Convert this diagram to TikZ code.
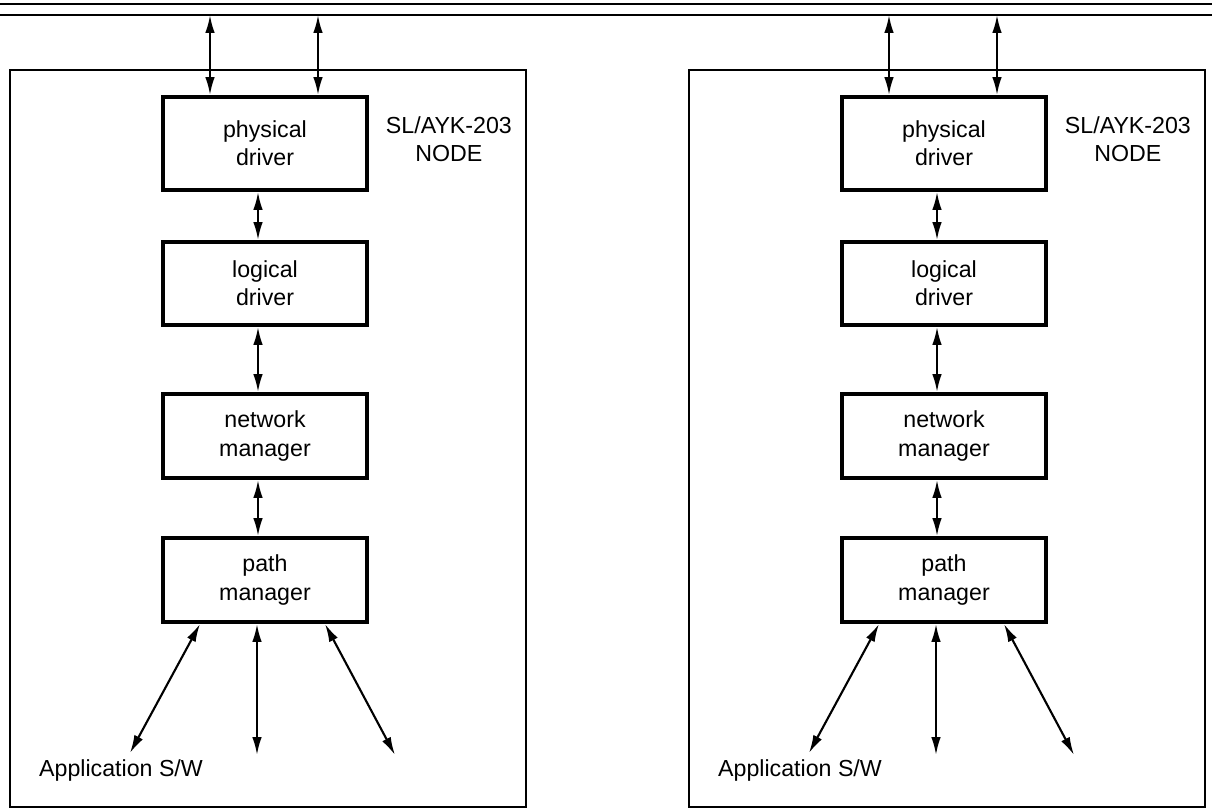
\documentclass[tikz,border=0pt]{standalone}
\usepackage{fontspec}
\setmainfont{Liberation Sans}
\usetikzlibrary{arrows.meta}
\tikzset{
  layer/.style={draw,line width=2.8pt,minimum width=5.1cm,minimum height=2.1cm,align=center},
  link/.style={line width=1.5pt,>={Latex[length=4.5mm,width=2.4mm]},<->},
  wire/.style={line width=1.4pt},
}
\begin{document}
\begin{tikzpicture}[font=\fontsize{16.5}{20}\selectfont]
    \fill[white] (0,0) rectangle (30.3,20.25);
    \useasboundingbox (0,0) rectangle (30.3,20.25);
    %% bus
    \draw[wire] (0,20.15) -- (30.3,20.15);
    \draw[wire] (0,19.875) -- (30.3,19.875);
    \coordinate (bus) at (0,19.875);
    \foreach \n/\dx in {a/0,b/16.975}{
        %% node frame
        \draw[wire] (0.25+\dx,0.075) rectangle (13.15+\dx,18.5);
        %% layers
        \node[layer,minimum height=2.325cm] (phys\n) at (6.625+\dx,16.6625) {physical\\driver};
        \node[layer,minimum height=2.075cm] (logi\n) at (6.625+\dx,13.1625) {logical\\driver};
        \node[layer] (netw\n) at (6.625+\dx,9.35) {network\\manager};
        \node[layer] (path\n) at (6.625+\dx,5.75) {path\\manager};
        \node[anchor=west,align=center] (name\n) at ([xshift=0.3cm,yshift=0.1cm]phys\n.east) {SL/AYK-203\\NODE};
        \node (appl\n) at (3.025+\dx,1.0) {Application S/W};
        %% links to the bus
        \coordinate (tl\n) at ([xshift=-1.375cm]phys\n.north);
        \coordinate (tr\n) at ([xshift=1.325cm]phys\n.north);
        \draw[link] (tl\n) -- (tl\n |- bus);
        \draw[link] (tr\n) -- (tr\n |- bus);
        %% links between layers
        \draw[link] ([xshift=-0.175cm]phys\n.south) -- ([xshift=-0.175cm]logi\n.north);
        \draw[link] ([xshift=-0.175cm]logi\n.south) -- ([xshift=-0.175cm]netw\n.north);
        \draw[link] ([xshift=-0.175cm]netw\n.south) -- ([xshift=-0.175cm]path\n.north);
        %% links to the applications
        \coordinate (outl\n) at (3.25+\dx,1.425);
        \coordinate (outm\n) at (6.425+\dx,1.375);
        \coordinate (outr\n) at (9.875+\dx,1.375);
        \draw[link] ([xshift=-1.625cm]path\n.south) -- (outl\n);
        \draw[link] ([xshift=-0.2cm]path\n.south) -- (outm\n);
        \draw[link] ([xshift=1.5cm]path\n.south) -- (outr\n);
    }
\end{tikzpicture}
\end{document}
